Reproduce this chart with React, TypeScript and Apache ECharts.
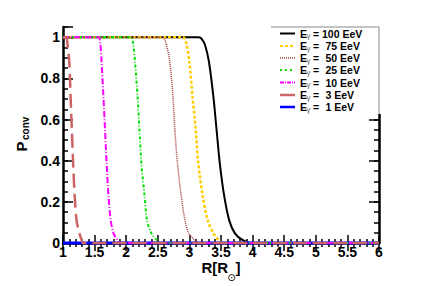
import React, { useEffect, useRef } from 'react';
import * as echarts from 'echarts';

// Radius R [R_sun] and conversion probability P_conv for each photon energy
const R_100 = [1, 3.15, 3.2, 3.25, 3.31, 3.38, 3.43, 3.48, 3.55, 3.63, 3.72, 3.84, 3.98, 6];
const P_100 = [1, 1, 0.99, 0.96, 0.88, 0.71, 0.55, 0.39, 0.23, 0.11, 0.047, 0.015, 0, 0];
const R_75 = [1, 2.9, 2.95, 3.0, 3.05, 3.1, 3.14, 3.21, 3.29, 3.38, 3.46, 3.52, 6];
const P_75 = [1, 1, 0.97, 0.88, 0.71, 0.55, 0.39, 0.23, 0.11, 0.047, 0.015, 0, 0];
const R_50 = [1, 2.58, 2.63, 2.69, 2.74, 2.77, 2.81, 2.87, 2.93, 2.99, 3.08, 3.15, 6];
const P_50 = [1, 1, 0.97, 0.88, 0.71, 0.55, 0.39, 0.23, 0.11, 0.047, 0.015, 0, 0];
const R_25 = [1, 2.07, 2.11, 2.14, 2.18, 2.21, 2.24, 2.29, 2.33, 2.4, 2.48, 2.52, 6];
const P_25 = [1, 1, 0.97, 0.88, 0.71, 0.55, 0.39, 0.23, 0.11, 0.047, 0.015, 0, 0];
const R_10 = [1, 1.56, 1.59, 1.61, 1.64, 1.665, 1.69, 1.72, 1.755, 1.8, 1.86, 1.9, 6];
const P_10 = [1, 1, 0.97, 0.88, 0.71, 0.55, 0.39, 0.23, 0.11, 0.047, 0.015, 0, 0];
const R_3 = [1, 1.05, 1.07, 1.1, 1.12, 1.14, 1.16, 1.185, 1.215, 1.26, 1.295, 1.32, 6];
const P_3 = [1, 1, 0.97, 0.88, 0.71, 0.55, 0.39, 0.23, 0.11, 0.047, 0.015, 0, 0];
const R_1 = [1, 6];
const P_1 = [0, 0];

const LEGEND_NUMBERS = ['100 EeV', '75 EeV', '50 EeV', '25 EeV', '10 EeV', '3 EeV', '1 EeV'];

const F = '"Liberation Sans", Arial, Helvetica, sans-serif';

const pts = (r: number[], p: number[]) => r.map((x, i) => [x, p[i]]);

export default function App() {
  const ref = useRef<HTMLDivElement>(null);
  useEffect(() => {
    document.body.style.margin = '0';
    const chart = echarts.init(ref.current!, null, { renderer: 'svg' });

    const styles = [
      { color: '#000000', width: 2, type: 'solid' as any, legendType: 'solid' as any, legendWidth: 2 },
      { color: '#ffcc00', width: 2.5, type: [3, 2], legendType: [3, 2], legendWidth: 2 },
      { color: '#a83a3a', width: 1.5, type: [1, 1], legendType: [1, 1], legendWidth: 1.5 },
      { color: '#00e000', width: 2, type: [3, 2, 1, 2], legendType: [2, 3], legendWidth: 2 },
      { color: '#ff00ff', width: 2, type: [6, 2, 1, 2], legendType: [4, 1, 1, 1], legendWidth: 2 },
      { color: '#cd6464', width: 2.5, type: [14, 6], legendType: 'solid', legendWidth: 2.5 },
      { color: '#0000ff', width: 3, type: 'solid', legendType: 'solid', legendWidth: 2.5 },
    ];
    const datasets = [
      pts(R_100, P_100),
      pts(R_75, P_75),
      pts(R_50, P_50),
      pts(R_25, P_25),
      pts(R_10, P_10),
      pts(R_3, P_3),
      pts(R_1, P_1),
    ];
    const order = [0, 1, 2, 6, 3, 4, 5];
    const series = order.map((k) => ({
      type: 'line',
      name: LEGEND_NUMBERS[k],
      data: datasets[k],
      xAxisIndex: 0,
      yAxisIndex: 0,
      showSymbol: false,
      symbol: 'none',
      smooth: 0.3,
      clip: false,
      lineStyle: { color: styles[k].color, width: styles[k].width, type: styles[k].type },
    }));

    const rowY = [33.5, 46, 58, 70, 82.5, 95, 107];
    const legendEls: any[] = [
      { type: 'rect', z: 100, shape: { x: 271, y: 25.5, width: 111, height: 88.5 }, style: { fill: '#fff' } },
      { type: 'line', z: 101, shape: { x1: 271, y1: 27, x2: 379, y2: 27 }, style: { stroke: '#888', lineWidth: 1 } },
      { type: 'line', z: 101, shape: { x1: 379, y1: 27, x2: 379, y2: 114 }, style: { stroke: '#888', lineWidth: 1 } },
    ];
    LEGEND_NUMBERS.forEach((t, i) => {
      const y = rowY[i];
      const st = styles[i];
      legendEls.push({
        type: 'line', z: 102,
        shape: { x1: 280, y1: y, x2: 295, y2: y },
        style: { stroke: st.color, lineWidth: st.legendWidth, lineDash: st.legendType === 'solid' ? null : st.legendType },
      });
      legendEls.push({ type: 'text', z: 102, x: 300, y, style: { text: 'E', fontSize: 10.5, fontWeight: 'bold', fontFamily: F, fill: '#000', align: 'left', verticalAlign: 'middle' } });
      legendEls.push({ type: 'text', z: 102, x: 306.5, y: y + 2, style: { text: 'γ', fontSize: 8, fontFamily: F, fill: '#666', align: 'left', verticalAlign: 'middle' } });
      legendEls.push({ type: 'text', z: 102, x: 313, y, style: { text: '=', fontSize: 10.5, fontWeight: 'bold', fontFamily: F, fill: '#000', align: 'left', verticalAlign: 'middle' } });
      legendEls.push({ type: 'text', z: 102, x: i === 0 ? 322 : 325.5, y, style: { text: t, fontSize: 10.5, fontWeight: 'bold', fontFamily: F, fill: '#000', align: 'left', verticalAlign: 'middle' } });
    });

    const titleEls: any[] = [
      {
        type: 'group', x: 22, y: 134, rotation: Math.PI / 2, z: 100,
        children: [
          { type: 'text', x: -17.5, y: -0.5, style: { text: 'P', fontSize: 15, fontWeight: 'bold', fontFamily: F, fill: '#000', align: 'left', verticalAlign: 'middle' } },
          { type: 'text', x: -6, y: 3.5, style: { text: 'conv', fontSize: 10, fontWeight: 'bold', fontFamily: F, fill: '#000', align: 'left', verticalAlign: 'middle' } },
        ],
      },
      { type: 'text', z: 100, x: 201.5, y: 267.5, style: { text: 'R[R', fontSize: 15, fontWeight: 'bold', fontFamily: F, fill: '#000', align: 'left', verticalAlign: 'middle' } },
      { type: 'text', z: 100, x: 231.5, y: 277.5, style: { text: '⊙', fontSize: 10, fontFamily: '"DejaVu Sans", sans-serif', fill: '#000', align: 'center', verticalAlign: 'middle' } },
      { type: 'text', z: 100, x: 235.5, y: 267.5, style: { text: ']', fontSize: 15, fontWeight: 'bold', fontFamily: F, fill: '#000', align: 'left', verticalAlign: 'middle' } },
    ];

    const fmtX = (v: number) => {
      const r = Math.round(v * 10) / 10;
      return Number.isInteger(r) ? String(r) : r.toFixed(1);
    };
    const fmtY = (v: number) => {
      const k = Math.round(v / 0.2);
      if (Math.abs(v - k * 0.2) > 1e-6 || v > 1.0001) return '';
      if (k === 0) return '0';
      if (k === 5) return '1';
      return (k * 0.2).toFixed(1);
    };

    const xBase = { type: 'value', min: 1, max: 6, splitLine: { show: false } };
    const yBase = { type: 'value', min: 0, max: 1.05, splitLine: { show: false } };
    const tickStyle = { color: '#000', width: 1.5 };

    chart.setOption({
      animation: false,
      backgroundColor: '#fff',
      grid: { left: 63, right: 42, top: 27, bottom: 43 },
      xAxis: [
        {
          ...xBase, position: 'bottom', interval: 0.5,
          axisLine: { show: true, lineStyle: { color: '#000', width: 2.5 } },
          axisTick: { show: true, inside: true, length: 8, lineStyle: tickStyle },
          minorTick: { show: true, splitNumber: 5, length: 4, lineStyle: tickStyle },
          axisLabel: { show: true, formatter: fmtX, fontSize: 14, fontWeight: 'bold', fontFamily: F, color: '#000', margin: 2 },
        },
        {
          ...xBase, position: 'top', interval: 0.5,
          axisLine: { show: true, lineStyle: { color: '#000', width: 1.2 } },
          axisTick: { show: true, inside: true, length: 8, lineStyle: tickStyle },
          minorTick: { show: true, splitNumber: 5, length: 4, lineStyle: tickStyle },
          axisLabel: { show: false },
        },
      ],
      yAxis: [
        {
          ...yBase, position: 'left', interval: 0.2,
          axisLine: { show: true, lineStyle: { color: '#000', width: 2.5 } },
          axisTick: { show: true, inside: true, length: 10, lineStyle: tickStyle },
          axisLabel: { show: true, formatter: fmtY, fontSize: 14, fontWeight: 'bold', fontFamily: F, color: '#000', margin: 3 },
        },
        {
          ...yBase, position: 'left', interval: 0.05,
          axisLine: { show: false },
          axisTick: { show: true, inside: true, length: 5, lineStyle: tickStyle },
          axisLabel: { show: false },
        },
        {
          ...yBase, position: 'right', interval: 0.2,
          axisLine: { show: true, lineStyle: { color: '#000', width: 2.5 } },
          axisTick: { show: true, inside: true, length: 10, lineStyle: tickStyle },
          axisLabel: { show: false },
        },
        {
          ...yBase, position: 'right', interval: 0.05,
          axisLine: { show: false },
          axisTick: { show: true, inside: true, length: 5, lineStyle: tickStyle },
          axisLabel: { show: false },
        },
      ],
      series,
      graphic: { elements: [...legendEls, ...titleEls] },
    });
    return () => chart.dispose();
  }, []);
  return <div ref={ref} style={{ width: 421, height: 286 }} />;
}
